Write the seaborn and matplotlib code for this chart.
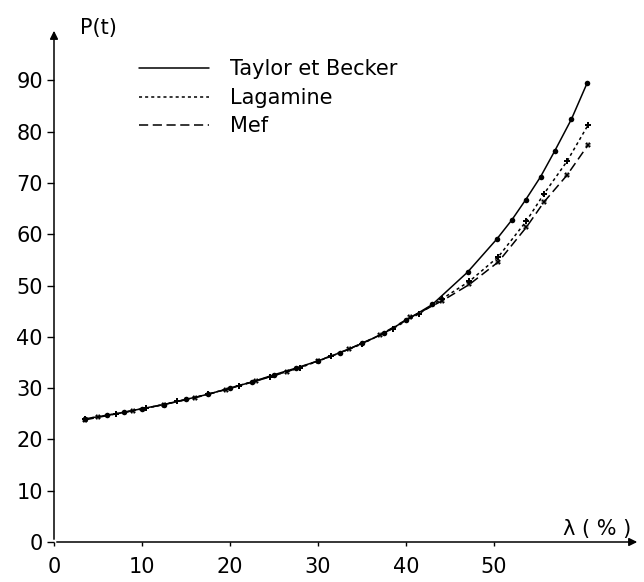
import pandas as pd
import seaborn as sns
import matplotlib.pyplot as plt
from matplotlib.lines import Line2D

# values (lambda in %, P in t)
taylor_x = [3.5, 6, 8, 10, 12.5, 15, 17.5, 20, 22.5, 25, 27.5, 30, 32.5, 35,
            37.5, 40, 43, 47, 50.3, 52, 53.6, 55.3, 56.9, 58.8, 60.6]
taylor_y = [24.0, 24.7, 25.3, 26.0, 26.8, 27.8, 28.8, 30.0, 31.2, 32.6, 33.9, 35.3, 36.9, 38.7,
            40.7, 43.2, 46.3, 52.6, 59.0, 62.7, 66.7, 71.2, 76.2, 82.4, 89.5]

lagamine_x = [3.5, 7, 10.5, 14, 17.5, 21, 24.5, 28, 31.5, 35, 38.5, 41.5, 44.1,
              47.2, 50.5, 53.7, 55.7, 58.3, 60.7]
lagamine_y = [24.0, 25.0, 26.1, 27.4, 28.8, 30.5, 32.2, 34.0, 36.2, 38.6, 41.6, 44.5, 47.4,
              50.8, 55.6, 62.6, 67.9, 74.2, 81.3]

mef_x = [3.5, 5, 9, 12.5, 16, 19.5, 23, 26.5, 30, 33.5, 37, 40.5, 44.1,
         47.2, 50.5, 53.7, 55.7, 58.3, 60.7]
mef_y = [23.8, 24.3, 25.6, 26.8, 28.1, 29.7, 31.4, 33.2, 35.3, 37.6, 40.3, 43.8, 47.0,
         50.2, 54.6, 61.4, 66.3, 71.5, 77.4]

models = ["Taylor et Becker", "Lagamine", "Mef"]
x_ticks = [0, 10, 20, 30, 40, 50]
y_ticks = [0, 10, 20, 30, 40, 50, 60, 70, 80, 90]

df = pd.concat([
    pd.DataFrame({"lam": taylor_x, "P": taylor_y, "model": models[0]}),
    pd.DataFrame({"lam": lagamine_x, "P": lagamine_y, "model": models[1]}),
    pd.DataFrame({"lam": mef_x, "P": mef_y, "model": models[2]}),
])

sns.set_theme(style="white")
plt.rcParams["font.family"] = ["DejaVu Sans"]
plt.rcParams["text.color"] = "black"

fig = plt.figure(figsize=(6.44, 5.82), dpi=100)
# axes placed so that the arrows end where the drawn ones do
ax = fig.add_axes([54 / 644, 40 / 582, (640 - 54) / 644, (542 - 28) / 582])

dashes = {models[0]: "", models[1]: (2, 2), models[2]: (6, 3)}
markers = {models[0]: "o", models[1]: "P", models[2]: "X"}
palette = {m: "black" for m in models}
sns.lineplot(data=df, x="lam", y="P", hue="model", style="model",
             dashes=dashes, markers=markers, palette=palette,
             markersize=4, linewidth=1.1, markeredgewidth=0, legend=False, ax=ax)

ax.set_xlim(0, 66.6)
ax.set_ylim(0, 100.2)
ax.set_xticks(x_ticks)
ax.set_yticks(y_ticks)
ax.tick_params(axis="y", direction="out", length=5, width=1, pad=3,
               labelsize=15, left=True, colors="black")
ax.tick_params(axis="x", direction="out", length=3, width=1, pad=8,
               labelsize=15, bottom=True, colors="black")
ax.set_xlabel("")
ax.set_ylabel("")
for s in ax.spines.values():
    s.set_visible(False)

# axes with arrow heads
arrow = dict(arrowstyle="-|>", lw=1.1, color="black", mutation_scale=12)
ax.annotate("", xy=(0, 1), xytext=(0, 0), xycoords="axes fraction", arrowprops=arrow)
ax.annotate("", xy=(1, 0), xytext=(0, 0), xycoords="axes fraction", arrowprops=arrow)

ax.text(0.045, 1.0, "P(t)", transform=ax.transAxes, fontsize=15, va="center", ha="left")
ax.text(0.985, 0.006, "λ ( % )", transform=ax.transAxes, fontsize=15, va="bottom", ha="right")

handles = [
    Line2D([], [], color="black", lw=1.1),
    Line2D([], [], color="black", lw=1.1, dashes=(2, 2)),
    Line2D([], [], color="black", lw=1.1, dashes=(6, 3)),
]
ax.legend(handles, models, loc="upper left", bbox_to_anchor=(0.13, 0.955),
          frameon=False, fontsize=15, handlelength=3.4, handletextpad=1.0,
          labelspacing=0.4, borderaxespad=0, labelcolor="black")

fig.savefig("out.png", dpi=100)
